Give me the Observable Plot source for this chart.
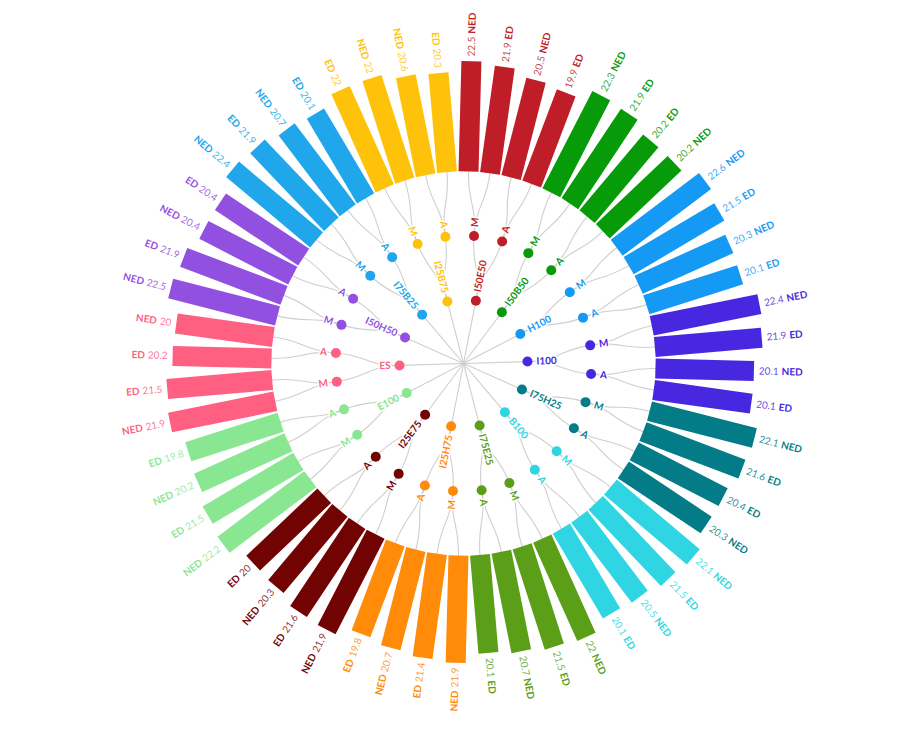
<!DOCTYPE html>
<html>
<head>
<meta charset="utf-8">
<script src="https://cdn.jsdelivr.net/npm/d3@7"></script>
<script src="https://cdn.jsdelivr.net/npm/@observablehq/plot@0.6"></script>
<style>
  body { margin: 0; background: #fff; }
  #chart svg { display: block; }
</style>
</head>
<body>
<div id="chart"></div>
<script>
// ---------------- data ----------------
const groups = ["I50E50","I50B50","H100","I100","I75H25","B100","I75E25","I25H75","I25E75","E100","ES","I50H50","I75B25","I25B75"];
const groupColors = ["#bf1e28","#079b0a","#1499f4","#4727e0","#037c87","#2fd5e2","#5b9e18","#ff8b08","#720303","#89e691","#ff6082","#9150df","#20a6ea","#ffc20a"];
const leaves = ["M","A"];
// per group, clockwise order: first two bars belong to M, last two to A
const barTypes = [
  ["NED","ED","NED","ED"],
  ["NED","ED","ED","NED"],
  ["NED","ED","NED","ED"],
  ["NED","ED","NED","ED"],
  ["NED","ED","ED","NED"],
  ["NED","ED","NED","ED"],
  ["NED","ED","NED","ED"],
  ["NED","ED","NED","ED"],
  ["NED","ED","NED","ED"],
  ["NED","ED","NED","ED"],
  ["NED","ED","ED","NED"],
  ["NED","ED","NED","ED"],
  ["NED","ED","NED","ED"],
  ["ED","NED","NED","ED"]
];
const barValues = [
  [22.5,21.9,20.5,19.9],
  [22.3,21.9,20.2,20.2],
  [22.6,21.5,20.3,20.1],
  [22.4,21.9,20.1,20.1],
  [22.1,21.6,20.4,20.3],
  [22.1,21.5,20.5,20.1],
  [22,21.5,20.7,20.1],
  [21.9,21.4,20.7,19.8],
  [21.9,21.6,20.3,20],
  [22.2,21.5,20.2,19.8],
  [21.9,21.5,20.2,20],
  [22.5,21.9,20.4,20.4],
  [22.4,21.9,20.7,20.1],
  [22,22,20.6,20.3]
];

// ---------------- layout ----------------
const W = 901, H = 731;
const CX = 463, CY = 363;
const R_GROUP = 64, R_LEAF = 128, R_BAR = 192, K = 4.9;
const NBARS = barValues.flat().length;
const STEP = 360 / NBARS, A0 = 1.5;

const rad = a => a * Math.PI / 180;
const px = (a, r) => r * Math.sin(rad(a));
const py = (a, r) => -r * Math.cos(rad(a));

const bars = [], leafNodes = [], groupNodes = [], linkPts = [];
let linkId = 0;
function addBump(a1, r1, a2, r2) {
  const rm = (r1 + r2) / 2, id = linkId++;
  [[a1, r1], [a1, rm], [a2, rm], [a2, r2]].forEach(([a, r]) => linkPts.push({id, x: px(a, r), y: py(a, r)}));
}
function addStraight(a, r1, r2) {
  const id = linkId++;
  [r1, r1 + (r2 - r1) / 3, r1 + 2 * (r2 - r1) / 3, r2].forEach(r => linkPts.push({id, x: px(a, r), y: py(a, r)}));
}

let bi = 0;
groups.forEach((g, gi) => {
  const color = groupColors[gi];
  const leafAngles = [];
  leaves.forEach((l, li) => {
    const these = [];
    for (let k = 0; k < 2; k++) {
      const idx = li * 2 + k;
      const angle = A0 + bi * STEP; bi++;
      const b = {group: g, leaf: l, type: barTypes[gi][idx], value: barValues[gi][idx], angle, color};
      bars.push(b); these.push(b);
    }
    const la = d3.mean(these, d => d.angle);
    leafNodes.push({name: l, angle: la, color});
    leafAngles.push(la);
    these.forEach(b => addBump(la, R_LEAF, b.angle, R_BAR));
  });
  const ga = d3.mean(leafAngles);
  groupNodes.push({name: g, angle: ga, color});
  leafAngles.forEach(la => addBump(ga, R_GROUP, la, R_LEAF));
  addStraight(ga, 0, R_GROUP);
});

// custom curve: 4 points -> one cubic bezier
function bezier4(context) {
  let p = [];
  return {
    areaStart() {}, areaEnd() {},
    lineStart() { p = []; },
    point(x, y) { p.push([+x, +y]); },
    lineEnd() {
      context.moveTo(p[0][0], p[0][1]);
      if (p.length >= 4) context.bezierCurveTo(p[1][0], p[1][1], p[2][0], p[2][1], p[3][0], p[3][1]);
      else p.slice(1).forEach(q => context.lineTo(q[0], q[1]));
    }
  };
}

const isRight = a => (a % 360) < 180;
const rot = a => isRight(a) ? a - 90 : a + 90;

function labelMarks(data, r, extra) {
  const right = data.filter(d => isRight(d.angle));
  const left = data.filter(d => !isRight(d.angle));
  const common = Object.assign({
    x: d => px(d.angle, r(d)),
    y: d => py(d.angle, r(d)),
    rotate: d => rot(d.angle),
    fill: "color"
  }, extra);
  return [
    Plot.text(right, Object.assign({}, common, {textAnchor: "start", text: extra.textR})),
    Plot.text(left, Object.assign({}, common, {textAnchor: "end", text: extra.textL}))
  ];
}

const chart = Plot.plot({
  width: W, height: H,
  margin: 0,
  style: {fontFamily: "Lato, 'Open Sans', sans-serif", background: "#fff"},
  x: {domain: [-CX, W - CX], range: [0, W], axis: null},
  y: {domain: [-CY, H - CY], range: [0, H], axis: null},
  color: {type: "identity"},
  marks: [
    Plot.line(linkPts, {x: "x", y: "y", z: "id", curve: bezier4, stroke: "#cfcfcf", strokeWidth: 1.1, fill: "none"}),
    Plot.link(bars, {
      x1: d => px(d.angle, R_BAR), y1: d => py(d.angle, R_BAR),
      x2: d => px(d.angle, R_BAR + d.value * K), y2: d => py(d.angle, R_BAR + d.value * K),
      stroke: "color", strokeWidth: 20, strokeLinecap: "butt"
    }),
    ...labelMarks(groupNodes, () => R_GROUP + 9, {textR: "name", textL: "name", fontSize: 10, fontWeight: "bold", stroke: "white", strokeWidth: 3, paintOrder: "stroke"}),
    ...labelMarks(leafNodes, () => R_LEAF + 9, {textR: "name", textL: "name", fontSize: 10, fontWeight: "bold", stroke: "white", strokeWidth: 3, paintOrder: "stroke"}),
    Plot.dot(groupNodes, {x: d => px(d.angle, R_GROUP), y: d => py(d.angle, R_GROUP), r: 5, fill: "color", stroke: null}),
    Plot.dot(leafNodes, {x: d => px(d.angle, R_LEAF), y: d => py(d.angle, R_LEAF), r: 5, fill: "color", stroke: null}),
    ...labelMarks(bars, d => R_BAR + d.value * K + 5, {
      textR: d => `${d.value} ${d.type}`,
      textL: d => `${d.type} ${d.value}`,
      fontSize: 10
    })
  ]
});

document.getElementById("chart").appendChild(chart);

// mixed weights for bar labels, halos for node labels
const NS = "http://www.w3.org/2000/svg";
chart.querySelectorAll("text").forEach(t => {
  if (t.getAttribute("stroke") === "white" || (t.parentNode && t.parentNode.getAttribute("stroke") === "white")) {
    t.setAttribute("paint-order", "stroke");
    t.setAttribute("stroke-linejoin", "round");
  }
  const s = t.textContent;
  if (/^(N?ED [\d.]+|[\d.]+ N?ED)$/.test(s)) {
    const parts = s.split(" ");
    t.textContent = "";
    parts.forEach((p, k) => {
      const ts = document.createElementNS(NS, "tspan");
      ts.textContent = p;
      if (k > 0) ts.setAttribute("dx", "3");
      const num = /^[\d.]+$/.test(p);
      ts.setAttribute("font-weight", num ? "400" : "700");
      if (num) ts.setAttribute("fill-opacity", "0.85");
      t.appendChild(ts);
    });
  }
});
chart.querySelectorAll("g").forEach(g => {
  if (g.getAttribute("stroke") === "white") { g.setAttribute("paint-order", "stroke"); g.setAttribute("stroke-linejoin", "round"); }
});
</script>
</body>
</html>
